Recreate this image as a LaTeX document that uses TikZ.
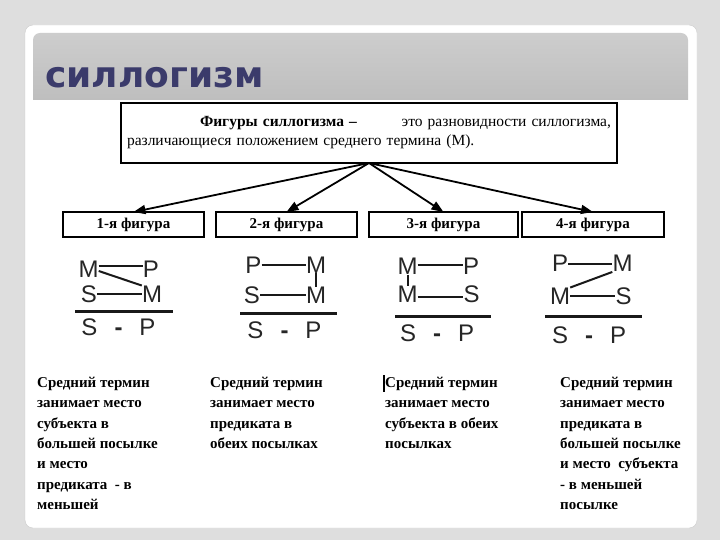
\documentclass[tikz,border=0pt]{standalone}
\usepackage{fontspec}
\setmainfont{Liberation Serif}
\newfontfamily\headfont{DejaVu Sans}
\newfontfamily\lettfont{Liberation Sans}
\usepackage{xcolor}
\definecolor{fongris}{HTML}{DEDEDE}
\definecolor{shapkaverh}{HTML}{CDCDCD}
\definecolor{shapkaniz}{HTML}{BEBEBE}
\definecolor{titulsin}{HTML}{3B3B6B}
\usetikzlibrary{arrows.meta, positioning}

\begin{document}
\begin{tikzpicture}[
  x=1pt, y=-1pt,
  box/.style={
    rectangle, draw=black, line width=1.5pt, fill=white,
    font=\bfseries\fontsize{15}{17}\selectfont,
    minimum height=25pt, inner sep=0pt, outer sep=0pt
  },
  arr/.style={-{Triangle[length=12pt,width=9pt]}, line width=1.8pt},
  lt/.style={inner sep=0pt, font=\lettfont\fontsize{24}{24}\selectfont, text=black!85},
  link/.style={line width=2pt, color=black!90},
  sumline/.style={line width=3pt, color=black!90},
  note/.style={
    anchor=north west, align=left, inner sep=0pt,
    font=\bfseries\fontsize{15}{20.3}\selectfont
  }
]
  \fill[fongris] (0,0) rectangle (720,540);
  \useasboundingbox (0,0) rectangle (720,540);
  \filldraw[fill=white, draw=black!20, rounded corners=8pt] (25,25) rectangle (697,528);
  \shade[top color=shapkaverh, bottom color=shapkaniz]
    (33,100) {[rounded corners=7pt] -- (33,33) -- (688,33)} -- (688,100) -- cycle;
  \node[anchor=base west, inner sep=0pt, text=titulsin,
        font=\headfont\bfseries\fontsize{36}{36}\selectfont] (titul) at (45,88) {силлогизм};

  \node[box, font=\fontsize{15.5}{19}\selectfont, minimum width=496pt,
        minimum height=60pt, text width=484pt, align=left] (def) at (369,133)
    {\hspace*{73pt}\textbf{Фигуры силлогизма –}\hfill это разновидности силлогизма,\\
     различающиеся положением среднего термина (М).};

  \node[box, minimum width=141pt] (fig1) at (133.5,224.5) {1-я фигура};
  \node[box, minimum width=141pt, right=12pt of fig1] (fig2) {2-я фигура};
  \node[box, minimum width=149pt, right=12pt of fig2] (fig3) {3-я фигура};
  \node[box, minimum width=142pt, right=4pt of fig3]  (fig4) {4-я фигура};
  \draw[arr] (def.south) -- (fig1.north);
  \draw[arr] (def.south) -- (fig2.north);
  \draw[arr] (def.south) -- (fig3.north);
  \draw[arr] (def.south) -- (fig4.north);

  \node[lt] (a1) at (88.5,269) {M};
  \node[lt] (b1) at (151,269)  {P};
  \node[lt] (c1) at (89,294)   {S};
  \node[lt] (d1) at (152,294)  {M};
  \draw[link] ([yshift=3pt]a1.east) -- ([yshift=3pt]b1.west);
  \draw[link] ([yshift=-2pt]a1.east) -- (d1.north west);
  \draw[link] (c1.east) -- (d1.west);
  \draw[sumline] (75,311) -- (173,311);
  \node[lt] (e1) at (118.5,327) {S\hspace{17pt}{\bfseries -}\hspace{17pt}P};

  \node[lt] (a2) at (253.5,265) {P};
  \node[lt] (b2) at (316,265)   {M};
  \node[lt] (c2) at (252,295)   {S};
  \node[lt] (d2) at (316,295)   {M};
  \draw[link] (a2.east) -- (b2.west);
  \draw[link] (b2.south) -- (d2.north);
  \draw[link] (c2.east) -- (d2.west);
  \draw[sumline] (240,313) -- (337,313);
  \node[lt] (e2) at (284.5,330) {S\hspace{17pt}{\bfseries -}\hspace{17pt}P};

  \node[lt] (a3) at (407.5,266.5) {M};
  \node[lt] (b3) at (471,266.5)   {P};
  \node[lt] (c3) at (407.5,294)   {M};
  \node[lt] (d3) at (471.5,294)   {S};
  \draw[link] ([yshift=2pt]a3.east) -- ([yshift=2pt]b3.west);
  \draw[link] (a3.south) -- (c3.north);
  \draw[link] ([yshift=-3pt]c3.east) -- ([yshift=-3pt]d3.west);
  \draw[sumline] (395,316) -- (491,316);
  \node[lt] (e3) at (437,333) {S\hspace{17pt}{\bfseries -}\hspace{17pt}P};

  \node[lt] (a4) at (560,263.5)   {P};
  \node[lt] (b4) at (622.5,263.5) {M};
  \node[lt] (c4) at (560,296)     {M};
  \node[lt] (d4) at (623.5,296)   {S};
  \draw[link] (a4.east) -- (b4.west);
  \draw[link] (c4.north east) -- (b4.south west);
  \draw[link] (c4.east) -- (d4.west);
  \draw[sumline] (545,316) -- (642,316);
  \node[lt] (e4) at (589,335) {S\hspace{17pt}{\bfseries -}\hspace{17pt}P};

  \node[note] (t1) at (37,377) {Средний термин\\занимает место\\субъекта в\\большей посылке\\и место\\предиката~ - в\\меньшей};
  \node[note] (t2) at (210,377) {Средний термин\\занимает место\\предиката в\\обеих посылках};
  \node[note] (t3) at (385,377) {Средний термин\\занимает место\\субъекта в обеих\\посылках};
  \node[note] (t4) at (560,377) {Средний термин\\занимает место\\предиката в\\большей посылке\\и место~ субъекта\\- в меньшей\\посылке};
  \draw[line width=1.5pt] (384,375) -- (384,392);
\end{tikzpicture}
\end{document}
